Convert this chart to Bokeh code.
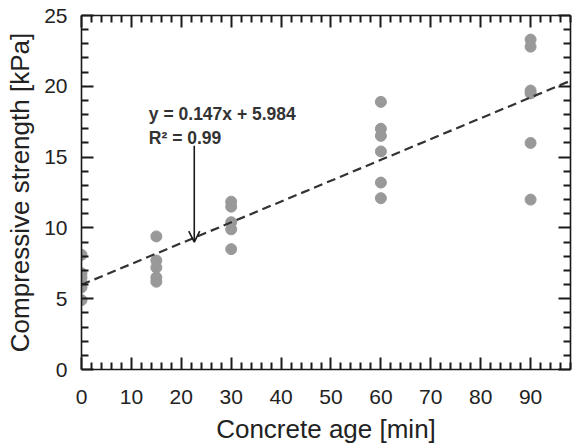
from bokeh.plotting import figure
from bokeh.models import (LinearAxis, Arrow, OpenHead, FixedTicker, Range1d,
                          CustomJSTickFormatter, Label, ColumnDataSource)
from bokeh.embed import file_html
from bokeh.resources import INLINE

# ---- data ----
ages = [0, 0, 0, 0, 0, 0,
        15, 15, 15, 15, 15,
        30, 30, 30, 30, 30,
        60, 60, 60, 60, 60, 60,
        90, 90, 90, 90, 90, 90]
strength = [8.1, 6.8, 6.5, 6.2, 5.8, 4.9,
            9.4, 7.7, 7.2, 6.5, 6.2,
            11.85, 11.5, 10.4, 9.9, 8.5,
            18.9, 17.0, 16.5, 15.4, 13.2, 12.1,
            23.3, 22.8, 19.7, 19.5, 16.0, 12.0]
fit_slope = 0.147
fit_intercept = 5.984
fit_x = [0, 98]
x_ticks = [0, 10, 20, 30, 40, 50, 60, 70, 80, 90]
x_minor = [v for v in range(0, 100, 2) if v % 10]
y_ticks = [0, 5, 10, 15, 20, 25]
y_minor = [v for v in range(0, 26) if v % 5]
eq_text = "y = 0.147x + 5.984"
r2_text = "R\u00b2 = 0.99"
arrow_x = 22.6
arrow_y = [15.8, 9.0]

FONT = "Liberation Sans"
INK = "#1a1a1a"

p = figure(width=572, height=446, output_backend="svg", toolbar_location=None,
           x_range=Range1d(0, 98), y_range=Range1d(0, 25),
           min_border_left=81, min_border_top=15, min_border_right=2,
           min_border_bottom=74)
p.grid.visible = False
p.outline_line_color = None
p.background_fill_color = "white"
p.border_fill_color = "white"

def style_axis(ax, ticks, minor):
    ax.ticker = FixedTicker(ticks=ticks, minor_ticks=minor)
    ax.axis_line_color = INK
    ax.axis_line_width = 1.6
    ax.major_tick_line_color = INK
    ax.minor_tick_line_color = INK
    ax.major_tick_line_width = 2
    ax.minor_tick_line_width = 2
    ax.major_tick_in = 12
    ax.major_tick_out = 0
    ax.minor_tick_in = 7
    ax.minor_tick_out = 0
    ax.major_label_text_font = FONT
    ax.major_label_text_font_size = "21px"
    ax.major_label_text_color = "#222222"
    ax.axis_label_text_font = FONT
    ax.axis_label_text_font_size = "26px"
    ax.axis_label_text_font_style = "normal"
    ax.axis_label_text_color = "#222222"

style_axis(p.xaxis[0], x_ticks, x_minor)
style_axis(p.yaxis[0], y_ticks, y_minor)
p.xaxis[0].axis_label = "Concrete age [min]"
p.yaxis[0].axis_label = "Compressive strength [kPa]"
p.xaxis[0].major_label_standoff = 20
p.yaxis[0].major_label_standoff = 14
p.xaxis[0].axis_label_standoff = 7
p.yaxis[0].axis_label_standoff = 6

blank = CustomJSTickFormatter(code="return ''")
top = LinearAxis()
right = LinearAxis()
style_axis(top, x_ticks, x_minor)
style_axis(right, y_ticks, y_minor)
for ax in (top, right):
    ax.formatter = blank
    ax.major_label_standoff = 0
    ax.major_label_text_font_size = "1px"
p.add_layout(top, "above")
p.add_layout(right, "right")

# points
src = ColumnDataSource(dict(x=ages, y=strength))
p.scatter("x", "y", source=src, size=11, fill_color="#999999",
          line_color="#999999")

# fit line
fit_y = [fit_slope * xv + fit_intercept for xv in fit_x]
p.line(fit_x, fit_y, line_color="#333333", line_width=2.2, line_dash="9 5")

# annotation
p.add_layout(Label(x=13.5, y=18.04, text=eq_text, text_font=FONT,
                   text_font_size="17.5px", text_font_style="bold",
                   text_color="#333333", text_baseline="alphabetic"))
p.add_layout(Label(x=13.5, y=16.36, text=r2_text, text_font=FONT,
                   text_font_size="17.5px", text_font_style="bold",
                   text_color="#333333", text_baseline="alphabetic"))
p.add_layout(Arrow(x_start=arrow_x, y_start=arrow_y[0], x_end=arrow_x,
                   y_end=arrow_y[1], line_color=INK, line_width=1.6,
                   end=OpenHead(size=11, line_color=INK, line_width=1.6)))

open("out.html", "w").write(file_html(p, INLINE))
